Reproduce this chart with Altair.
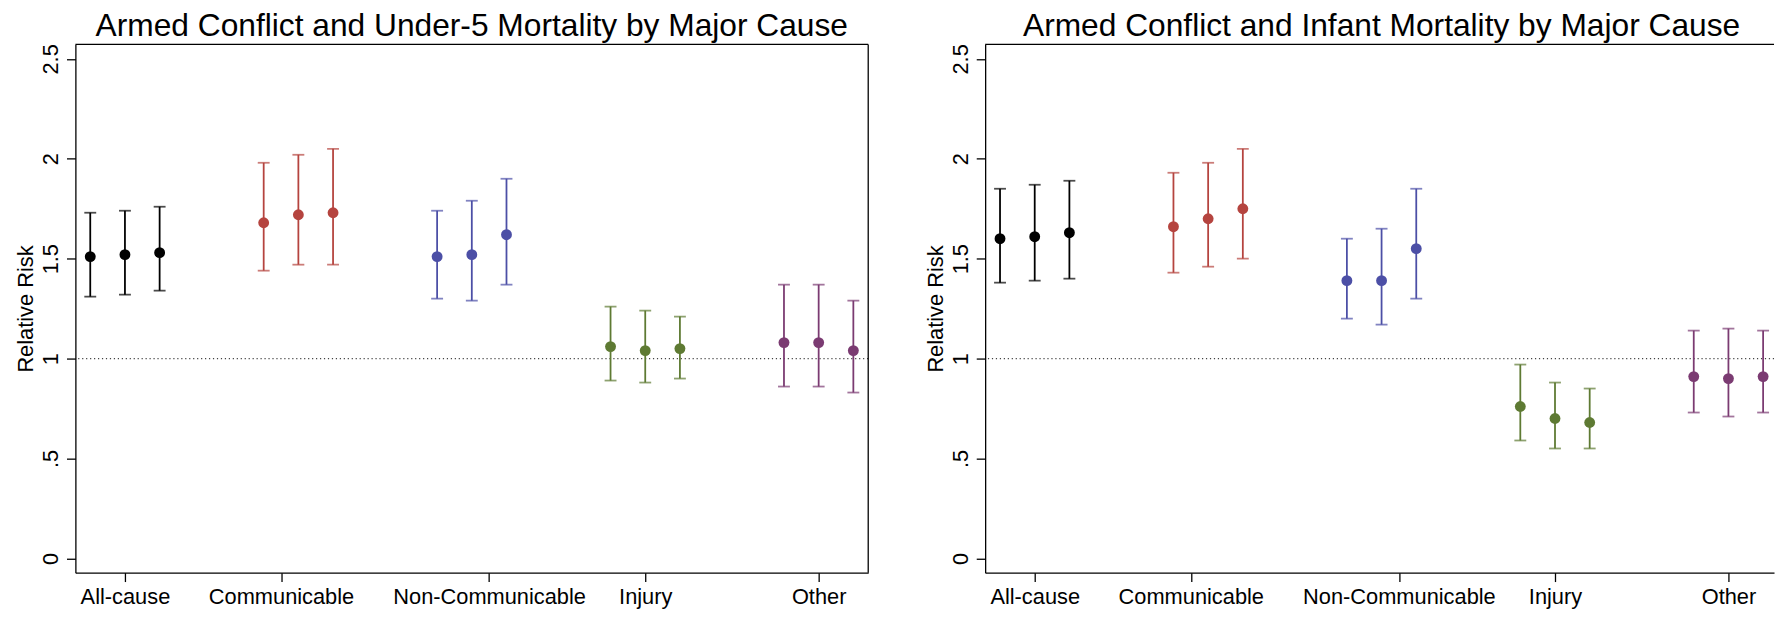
import altair as alt
import pandas as pd

FONT = "Liberation Sans, Arial, Helvetica, sans-serif"

causes = ["All-cause", "Communicable", "Non-Communicable", "Injury", "Other"]
cause_colors = ["#000000", "#b5443f", "#4c4fa6", "#5e7a33", "#7b3b72"]
point_cause = ["All-cause"] * 3 + ["Communicable"] * 3 + ["Non-Communicable"] * 3 + ["Injury"] * 3 + ["Other"] * 3
x_positions = [1, 2, 3, 6, 7, 8, 11, 12, 13, 16, 17, 18, 21, 22, 23]
tick_positions = [2, 6.5, 12.5, 17, 22]
y_ticks = [0, 0.5, 1, 1.5, 2, 2.5]
y_tick_labels = ["0", ".5", "1", "1.5", "2", "2.5"]

# Under-5 mortality
u5_est = [1.51, 1.52, 1.53, 1.68, 1.72, 1.73, 1.51, 1.52, 1.62, 1.06, 1.04, 1.05, 1.08, 1.08, 1.04]
u5_lo = [1.31, 1.32, 1.34, 1.44, 1.47, 1.47, 1.30, 1.29, 1.37, 0.89, 0.88, 0.90, 0.86, 0.86, 0.83]
u5_hi = [1.73, 1.74, 1.76, 1.98, 2.02, 2.05, 1.74, 1.79, 1.90, 1.26, 1.24, 1.21, 1.37, 1.37, 1.29]

# Infant mortality
inf_est = [1.60, 1.61, 1.63, 1.66, 1.70, 1.75, 1.39, 1.39, 1.55, 0.76, 0.70, 0.68, 0.91, 0.90, 0.91]
inf_lo = [1.38, 1.39, 1.40, 1.43, 1.46, 1.50, 1.20, 1.17, 1.30, 0.59, 0.55, 0.55, 0.73, 0.71, 0.73]
inf_hi = [1.85, 1.87, 1.89, 1.93, 1.98, 2.05, 1.60, 1.65, 1.85, 0.97, 0.88, 0.85, 1.14, 1.15, 1.14]

ref_value = 1.0
YMIN, YMAX = -0.0714, 2.5724
XMIN = 0.5714
PLOT_H = 533


def label_expr(values, labels):
    parts = []
    for v, lab in zip(values, labels):
        parts.append(f"datum.value == {v} ? '{lab}' : ")
    return "".join(parts) + "''"


def panel(title, est, lo, hi, width, xmax, right_frame, title_dx):
    df = pd.DataFrame({"x": x_positions, "cause": point_cause, "est": est, "lo": lo, "hi": hi})
    base = alt.Chart(df)
    xenc = alt.X(
        "x:Q",
        scale=alt.Scale(domain=[XMIN, xmax], nice=False, zero=False),
        axis=alt.Axis(
            values=tick_positions,
            labelExpr=label_expr(tick_positions, causes),
            title=None,
            grid=False,
            tickSize=9,
            labelPadding=5,
            labelFontSize=22,
            labelAngle=0,
            labelLimit=0,
            labelFlush=False,
            labelOverlap=False,
        ),
    )
    yaxis = alt.Axis(
        values=y_ticks,
        labelExpr=label_expr(y_ticks, y_tick_labels),
        title="Relative Risk",
        grid=False,
        tickSize=9,
        labelPadding=9,
        labelFontSize=22,
        labelAngle=270,
        labelAlign="center",
        labelBaseline="alphabetic",
        labelLimit=0,
        labelFlush=False,
        labelOverlap=False,
        titleFontSize=22,
        titleFontWeight="normal",
        titleAngle=270,
        titleX=-43,
        titleY=PLOT_H / 2,
        titleAlign="center",
        titleBaseline="alphabetic",
    )
    yscale = alt.Scale(domain=[YMIN, YMAX], nice=False, zero=False)
    color = alt.Color("cause:N", scale=alt.Scale(domain=causes, range=cause_colors), legend=None)

    ref = alt.Chart(pd.DataFrame({"r": [ref_value]})).mark_rule(
        strokeDash=[1.2, 2.8], color="#444444", strokeWidth=1.2
    ).encode(y=alt.Y("r:Q", scale=yscale, axis=yaxis))
    bars = base.mark_rule(strokeWidth=1.8).encode(
        x=xenc, y=alt.Y("lo:Q", scale=yscale, axis=yaxis), y2="hi:Q", color=color
    )
    cap_lo = base.mark_tick(orient="horizontal", size=12, thickness=1.8).encode(
        x=xenc, y=alt.Y("lo:Q", scale=yscale, axis=yaxis), color=color
    )
    cap_hi = base.mark_tick(orient="horizontal", size=12, thickness=1.8).encode(
        x=xenc, y=alt.Y("hi:Q", scale=yscale, axis=yaxis), color=color
    )
    pts = base.mark_circle(size=120, opacity=1).encode(
        x=xenc, y=alt.Y("est:Q", scale=yscale, axis=yaxis), color=color
    )
    top = alt.Chart(pd.DataFrame({"r": [ref_value]})).mark_rule(color="black", strokeWidth=1.3).encode(
        y=alt.value(0), x=alt.value(0), x2=alt.value(width)
    )
    layers = [ref, bars, cap_lo, cap_hi, pts, top]
    if right_frame:
        layers.append(
            alt.Chart(pd.DataFrame({"r": [ref_value]})).mark_rule(color="black", strokeWidth=1.3).encode(
                x=alt.value(width), y=alt.value(0), y2=alt.value(PLOT_H)
            )
        )
    return alt.layer(*layers).properties(
        width=width,
        height=PLOT_H,
        title=alt.TitleParams(
            text=title,
            fontSize=32,
            fontWeight="normal",
            font=FONT,
            color="black",
            anchor="middle",
            frame="group",
            offset=1,
            dx=title_dx,
        ),
    )


left = panel("Armed Conflict and Under-5 Mortality by Major Cause", u5_est, u5_lo, u5_hi, 800, 23.4286, True, 0)
right = panel("Armed Conflict and Infant Mortality by Major Cause", inf_est, inf_lo, inf_hi, 796, 23.3143, False, 2)

chart = (
    alt.hconcat(left, right, spacing=54)
    .properties(padding={"left": 6, "top": -2, "right": 0, "bottom": 4}, background="white")
    .configure_view(stroke="transparent")
    .configure_axis(
        labelFont=FONT,
        titleFont=FONT,
        labelColor="black",
        titleColor="black",
        domainColor="black",
        tickColor="black",
        domainWidth=1.3,
        tickWidth=1.3,
    )
)

chart.save("out.html", embed_options={"renderer": "svg", "actions": False})
